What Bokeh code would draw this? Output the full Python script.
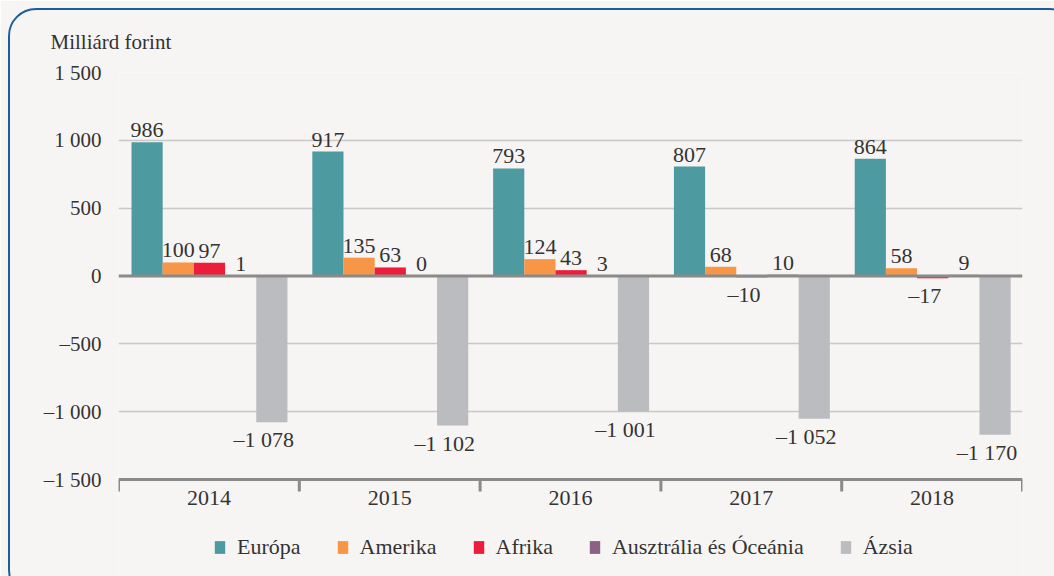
from bokeh.plotting import figure
from bokeh.models import ColumnDataSource, FixedTicker, Span, Legend, LegendItem, InlineStyleSheet
from bokeh.core.properties import value
from bokeh.embed import file_html
from bokeh.resources import INLINE

years = ["2014", "2015", "2016", "2017", "2018"]
series_names = ["Európa", "Amerika", "Afrika", "Ausztrália és Óceánia", "Ázsia"]
europa = [986, 917, 793, 807, 864]
amerika = [100, 135, 124, 68, 58]
afrika = [97, 63, 43, -10, -17]
ausztralia = [1, 0, 3, 10, 9]
azsia = [-1078, -1102, -1001, -1052, -1170]
colors = ["#4e9aa1", "#f79646", "#ed1c3a", "#8b6283", "#bbbcc0"]
y_ticks = [-1500, -1000, -500, 0, 500, 1000, 1500]
y_title = "Milliárd forint"

FONT = "Liberation Serif"
TXT = "#333333"
BG = "#f7f5f3"
AX = "#8a8a8a"

# layout (pixels)
W, H = 1054, 576
PLOT_LEFT, PLOT_RIGHT, PLOT_TOP, AXIS_Y = 118, 1022, 72, 479
TICK_LEN = 12

def fmt(v):
    s = f"{abs(v):,}".replace(",", " ")
    return ("\u2013" + s) if v < 0 else s

all_series = [europa, amerika, afrika, ausztralia, azsia]
pad = 0.072
bar_w = 0.1725

px_per_unit = (AXIS_Y - PLOT_TOP) / (y_ticks[-1] - y_ticks[0])
y_start = y_ticks[0] - (H - AXIS_Y) / px_per_unit

frame_css = InlineStyleSheet(css="""
:host::after {
  content: ""; position: fixed; left: 8px; top: 8px;
  width: 1070px; height: 590px; box-sizing: border-box;
  border: 2px solid #1b5e9e; border-radius: 28px;
  pointer-events: none; z-index: 10;
}
""")

p = figure(width=W, height=H, x_range=(0, len(years)), y_range=(y_start, y_ticks[-1]),
           output_backend="svg", toolbar_location=None, x_axis_location=None,
           min_border_left=PLOT_LEFT, min_border_right=W - PLOT_RIGHT,
           min_border_top=PLOT_TOP, min_border_bottom=0,
           background_fill_color=BG, border_fill_color=BG, stylesheets=[frame_css])
p.outline_line_color = None

p.title.text = y_title
p.title.align = "left"
p.title.offset = -68
p.title.standoff = 38
p.title.text_font = FONT
p.title.text_font_size = "21px"
p.title.text_font_style = "normal"
p.title.text_color = TXT

renderers = []
pos_x, pos_y, pos_t = [], [], []
neg_x, neg_y, neg_t = [], [], []
for k, vals in enumerate(all_series):
    xs = [i + pad + bar_w * (k + 0.5) for i in range(len(years))]
    src = ColumnDataSource(dict(x=xs, top=vals))
    r = p.vbar(x="x", top="top", bottom=0, width=bar_w, source=src,
               fill_color=colors[k], line_color=None)
    renderers.append(r)
    for x, v in zip(xs, vals):
        if v >= 0:
            pos_x.append(x); pos_y.append(v); pos_t.append(fmt(v))
        else:
            neg_x.append(x); neg_y.append(v); neg_t.append(fmt(v))

p.add_layout(Span(location=0, dimension="width", line_color=AX, line_width=3))

p.text(x="x", y="y", text="t", source=ColumnDataSource(dict(x=pos_x, y=pos_y, t=pos_t)),
       text_align="center", text_baseline="top", y_offset=-19,
       text_font=value(FONT), text_font_size="22px", text_color=TXT)
p.text(x="x", y="y", text="t", source=ColumnDataSource(dict(x=neg_x, y=neg_y, t=neg_t)),
       text_align="center", text_baseline="top", y_offset=5, x_offset=-8,
       text_font=value(FONT), text_font_size="22px", text_color=TXT)

# y axis
p.yaxis.ticker = FixedTicker(ticks=y_ticks)
p.yaxis.major_label_overrides = {t: fmt(t) for t in y_ticks}
p.yaxis.axis_line_color = None
p.yaxis.major_tick_line_color = None
p.yaxis.minor_tick_line_color = None
p.yaxis.major_label_standoff = 11
p.yaxis.major_label_text_font = FONT
p.yaxis.major_label_text_font_size = "21px"
p.yaxis.major_label_text_color = TXT

p.xgrid.ticker = FixedTicker(ticks=[])
p.xgrid.grid_line_color = None
p.xgrid.visible = False
p.ygrid.ticker = FixedTicker(ticks=[t for t in y_ticks if t not in (0, y_ticks[0])])
p.ygrid.grid_line_color = "#c8c8c8"
p.ygrid.grid_line_width = 1.5

# category axis at the bottom of the value range
p.add_layout(Span(location=y_ticks[0], dimension="width", line_color=AX, line_width=3))
bounds = list(range(len(years) + 1))
tick_end = y_ticks[0] - TICK_LEN / px_per_unit
p.segment(x0=bounds, y0=[y_ticks[0]] * len(bounds), x1=bounds, y1=[tick_end] * len(bounds),
          line_color=AX, line_width=3)
centers = [i + 0.5 for i in range(len(years))]
p.text(x=centers, y=[y_ticks[0]] * len(centers), text=years,
       text_align="center", text_baseline="top", y_offset=11,
       text_font=value(FONT), text_font_size="22px", text_color=TXT)

legend = Legend(items=[LegendItem(label=s, renderers=[r]) for s, r in zip(series_names, renderers)],
                orientation="horizontal", location=(95, 16),
                border_line_color=None, background_fill_alpha=0, padding=0, margin=0,
                spacing=35, label_standoff=11, glyph_width=13, glyph_height=16,
                label_text_font=FONT, label_text_font_size="22px", label_text_color=TXT)
p.add_layout(legend)

html = file_html(p, INLINE)
html = html.replace("<body>", '<body style="background:%s;margin:0;">' % BG, 1)
open("out.html", "w").write(html)
